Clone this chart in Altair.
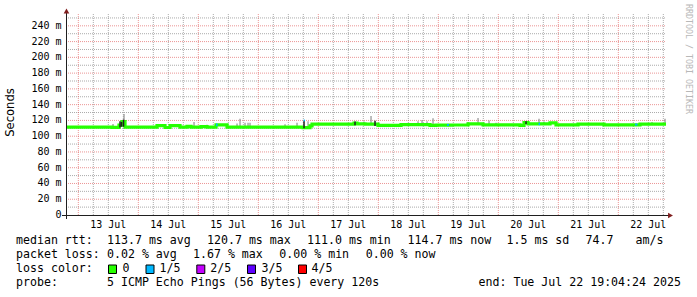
import altair as alt
import pandas as pd

# ---------------- data ----------------
# median rtt (ms), step series (time UTC, value)
med_time = [
    "2025-07-12T19:04:24Z", "2025-07-13T13:29:00Z", "2025-07-13T16:17:00Z", "2025-07-13T17:29:00Z",
    "2025-07-13T18:41:00Z", "2025-07-14T07:29:00Z", "2025-07-14T10:41:00Z", "2025-07-14T12:41:00Z",
    "2025-07-14T16:41:00Z", "2025-07-14T19:29:00Z", "2025-07-14T21:05:00Z", "2025-07-15T01:05:00Z",
    "2025-07-15T03:29:00Z", "2025-07-15T07:05:00Z", "2025-07-15T11:29:00Z", "2025-07-16T17:53:00Z",
    "2025-07-16T20:41:00Z", "2025-07-16T21:29:00Z", "2025-07-17T14:17:00Z", "2025-07-17T15:29:00Z",
    "2025-07-17T18:41:00Z", "2025-07-17T23:53:00Z", "2025-07-18T09:05:00Z", "2025-07-18T20:41:00Z",
    "2025-07-18T23:05:00Z", "2025-07-19T05:29:00Z", "2025-07-19T11:53:00Z", "2025-07-19T17:53:00Z",
    "2025-07-20T08:41:00Z", "2025-07-20T10:17:00Z", "2025-07-20T11:53:00Z", "2025-07-20T20:41:00Z",
    "2025-07-20T23:05:00Z", "2025-07-21T07:53:00Z", "2025-07-21T18:17:00Z", "2025-07-22T08:41:00Z",
    "2025-07-22T19:04:24Z",
]
med_ms = [
    111.5, 111.2, 114.0, 118.5,
    111.5, 113.4, 111.0, 113.4,
    111.5, 112.4, 111.5, 112.0,
    111.5, 114.3, 111.5, 110.8,
    113.0, 115.2, 116.5, 115.5,
    115.2, 113.6, 114.7, 113.6,
    113.9, 114.2, 115.5, 114.3,
    113.6, 117.2, 115.5, 117.0,
    114.3, 115.2, 114.3, 115.2,
    115.2,
]

# light smoke (ping spread) spikes
smoke_time = [
    "2025-07-13T13:53:00Z", "2025-07-13T18:17:00Z", "2025-07-14T22:17:00Z", "2025-07-15T03:29:00Z",
    "2025-07-15T15:29:00Z", "2025-07-15T16:41:00Z", "2025-07-15T18:41:00Z", "2025-07-15T19:53:00Z",
    "2025-07-15T20:41:00Z", "2025-07-16T10:41:00Z", "2025-07-16T15:29:00Z", "2025-07-16T19:53:00Z",
    "2025-07-17T18:17:00Z", "2025-07-17T21:05:00Z", "2025-07-18T15:53:00Z", "2025-07-18T17:29:00Z",
    "2025-07-18T19:29:00Z", "2025-07-18T21:53:00Z", "2025-07-19T11:53:00Z", "2025-07-19T15:53:00Z",
    "2025-07-19T20:17:00Z", "2025-07-19T23:05:00Z", "2025-07-20T16:17:00Z", "2025-07-20T18:17:00Z",
    "2025-07-22T13:29:00Z", "2025-07-22T18:41:00Z",
]
smoke_lo = [112, 118, 112, 112, 112, 112, 112, 112, 112, 112, 112, 113,
            115, 115, 114, 114, 114, 114, 115, 115, 114, 114, 115, 115, 115, 115]
smoke_hi = [115.5, 128, 118, 114.5, 116, 122, 117, 117, 117, 115, 117, 119,
            118.5, 125.7, 119, 120.6, 119, 122.8, 118, 123.2, 120, 117, 122, 118.5, 118, 122]

# dense smoke (dark) spikes
dark_time = ["2025-07-13T16:41:00Z", "2025-07-13T17:17:00Z", "2025-07-13T18:05:00Z",
             "2025-07-16T18:17:00Z", "2025-07-17T14:41:00Z", "2025-07-17T22:41:00Z",
             "2025-07-20T11:05:00Z"]
dark_lo = [111, 112, 112, 110, 114, 113, 115]
dark_hi = [119, 118, 121, 119, 118.5, 119.5, 119]

# median segments with 1/5 packet loss
loss_t1 = ["2025-07-15T07:05:00Z", "2025-07-16T18:05:00Z", "2025-07-19T03:29:00Z",
           "2025-07-20T16:05:00Z", "2025-07-22T06:41:00Z"]
loss_t2 = ["2025-07-15T07:41:00Z", "2025-07-16T18:41:00Z", "2025-07-19T04:17:00Z",
           "2025-07-20T16:41:00Z", "2025-07-22T07:41:00Z"]
loss_lo = [112.5, 118.5, 113, 114, 113.5]
loss_hi = [116, 121, 115.5, 117, 116]

y_ticks = [0, 20, 40, 60, 80, 100, 120, 140, 160, 180, 200, 220, 240]
y_tick_labels = ["0\u00a0\u00a0", "20 m", "40 m", "60 m", "80 m", "100 m", "120 m", "140 m",
                 "160 m", "180 m", "200 m", "220 m", "240 m"]
x_label_time = ["2025-07-%02dT12:00:00Z" % d for d in [13, 14, 15, 16, 17, 18, 19, 20, 21, 22]]
x_labels = ["13 Jul", "14 Jul", "15 Jul", "16 Jul", "17 Jul", "18 Jul", "19 Jul", "20 Jul",
            "21 Jul", "22 Jul"]

legend_labels = ["0", "1/5", "2/5", "3/5", "4/5"]
legend_colors = ["#26ff00", "#00b8ff", "#c400ff", "#5e00ff", "#ff0000"]

line1 = ["median rtt:", "113.7 ms avg", "120.7 ms max", "111.0 ms min", "114.7 ms now",
         "1.5 ms sd", "74.7", "am/s"]
line2 = ["packet loss:", "0.02 % avg", "1.67 % max", "0.00 % min", "0.00 % now"]
line4 = ["probe:", "5 ICMP Echo Pings (56 Bytes) every 120s", "end: Tue Jul 22 19:04:24 2025"]

# ---------------- layout ----------------
OX, OY = 66, 14
W, H = 600, 201
MONO = "DejaVu Sans Mono"
T0, T1 = "2025-07-12T19:04:24Z", "2025-07-22T19:04:24Z"

xscale = alt.Scale(type="utc", nice=False, domain=[
    alt.DateTime(year=2025, month=7, date=12, hours=19, minutes=4, seconds=24, utc=True),
    alt.DateTime(year=2025, month=7, date=22, hours=19, minutes=4, seconds=24, utc=True)])
yscale = alt.Scale(domain=[0, 255], nice=False, zero=True)


def X(f):
    return alt.X(f, type="temporal", scale=xscale, axis=None)


def Y(f):
    return alt.Y(f, type="quantitative", scale=yscale, axis=None)


df_med = pd.DataFrame({"t": med_time, "v": med_ms})
df_smoke = pd.DataFrame({"t": smoke_time, "lo": smoke_lo, "hi": smoke_hi})
df_dark = pd.DataFrame({"t": dark_time, "lo": dark_lo, "hi": dark_hi})
df_loss = pd.DataFrame({"t1": loss_t1, "t2": loss_t2, "lo": loss_lo, "hi": loss_hi})
df_xlab = pd.DataFrame({"t": x_label_time, "lab": x_labels})
df_ylab = pd.DataFrame({"v": y_ticks, "lab": y_tick_labels})

vg = pd.date_range("2025-07-13 00:00", "2025-07-22 18:00", freq="6h")
df_vmaj = pd.DataFrame({"t": [d.strftime("%Y-%m-%dT%H:%M:%SZ") for d in vg if d.hour == 0]})
df_vmin = pd.DataFrame({"t": [d.strftime("%Y-%m-%dT%H:%M:%SZ") for d in vg if d.hour != 0]})


def hgrid(vals):
    rows = []
    for v in vals:
        rows.append({"g": v, "v": v, "t": T0})
        rows.append({"g": v, "v": v, "t": T1})
    return pd.DataFrame(rows)


df_hmaj = hgrid(range(20, 251, 20))
df_hmin = hgrid(range(10, 251, 20))

one = pd.DataFrame({"a": [0]})

MAJ = "rgba(222,79,79,0.6)"
MIN = "rgba(143,143,143,0.75)"

layers = []
layers.append(alt.Chart(df_vmin).mark_rule(stroke=MIN, strokeDash=[1, 1], strokeWidth=1).encode(
    x=X("t"), y=alt.value(0), y2=alt.value(H)))
layers.append(alt.Chart(df_hmin).mark_line(stroke=MIN, strokeDash=[1, 1], strokeWidth=1).encode(
    x=X("t"), y=Y("v"), detail="g:N"))
layers.append(alt.Chart(df_vmaj).mark_rule(stroke=MAJ, strokeDash=[1, 1], strokeWidth=1).encode(
    x=X("t"), y=alt.value(0), y2=alt.value(H)))
layers.append(alt.Chart(df_hmaj).mark_line(stroke=MAJ, strokeDash=[1, 1], strokeWidth=1).encode(
    x=X("t"), y=Y("v"), detail="g:N"))

# smoke
layers.append(alt.Chart(df_smoke).mark_rule(color="#909090", strokeWidth=1.2).encode(
    x=X("t"), y=Y("lo"), y2="hi:Q"))

# median line
layers.append(alt.Chart(df_med).mark_line(color="#26ff00", strokeWidth=3.2, interpolate="step-after",
                                          strokeJoin="miter", strokeCap="butt").encode(
    x=X("t"), y=Y("v")))

layers.append(alt.Chart(df_loss).mark_rect(color="#00b8ff").encode(
    x=X("t1"), x2="t2:T", y=Y("lo"), y2="hi:Q"))

layers.append(alt.Chart(df_dark).mark_rule(color="#1e1e1e", strokeWidth=1.5).encode(
    x=X("t"), y=Y("lo"), y2="hi:Q"))

# tick labels
layers.append(alt.Chart(df_xlab).mark_text(font=MONO, fontSize=10, color="#000", align="center",
                                           baseline="middle").encode(
    x=X("t"), y=alt.value(224.5 - OY), text="lab:N"))
layers.append(alt.Chart(df_ylab).mark_text(font=MONO, fontSize=10, color="#000", align="right",
                                           baseline="middle").encode(
    y=Y("v"), x=alt.value(61.5 - OX), text="lab:N"))

# axis lines and arrows
AX = "#1f1f1f"
layers.append(alt.Chart(one).mark_rule(color=AX, strokeWidth=1).encode(
    x=alt.value(62 - OX), x2=alt.value(669 - OX), y=alt.value(215.5 - OY)))
layers.append(alt.Chart(one).mark_rule(color=AX, strokeWidth=1).encode(
    x=alt.value(66.5 - OX), y=alt.value(12 - OY), y2=alt.value(219 - OY)))
layers.append(alt.Chart(one).mark_point(shape="triangle-right", filled=True, fill="#801f1f", opacity=1,
                                        size=32, strokeWidth=0).encode(
    x=alt.value(670.5 - OX), y=alt.value(215.5 - OY)))
layers.append(alt.Chart(one).mark_point(shape="triangle-up", filled=True, fill="#801f1f", opacity=1,
                                        size=32, strokeWidth=0).encode(
    x=alt.value(66.5 - OX), y=alt.value(11 - OY)))


def txt(s, px, py, size=11.6, font=MONO, color="#000", angle=0, align="left"):
    return alt.Chart(one).mark_text(text=s, font=font, fontSize=size, color=color, angle=angle,
                                    align=align, baseline="middle").encode(
        x=alt.value(px - OX), y=alt.value(py - OY))


layers.append(txt("Seconds", 11, 112.5, size=11.6, font="DejaVu Sans", angle=270, align="center"))
layers.append(txt("RRDTOOL / TOBI OETIKER", 687.5, 59, size=8.3, color="#b8b8b8", angle=90, align="center"))

x1 = [16, 107, 207, 307, 407.5, 506.5, 585.5, 635.5]
for s, px in zip(line1, x1):
    layers.append(txt(s, px, 241))
x2 = [16, 107, 193, 279.3, 365.7]
for s, px in zip(line2, x2):
    layers.append(txt(s, px, 255))
layers.append(txt("loss color:", 16, 269))
sq_x = [108.5, 146, 196.8, 247.5, 298.5]
lab_x = [122.5, 159.5, 210.3, 261.5, 311.5]
for lab, col, sx, lx in zip(legend_labels, legend_colors, sq_x, lab_x):
    layers.append(alt.Chart(one).mark_rect(fill=col, stroke="#000", strokeWidth=1).encode(
        x=alt.value(sx - OX), x2=alt.value(sx + 8 - OX), y=alt.value(265 - OY), y2=alt.value(273.5 - OY)))
    layers.append(txt(lab, lx, 269))
x4 = [16, 107, 478.5]
for s, px in zip(line4, x4):
    layers.append(txt(s, px, 283))

chart = alt.layer(*layers).properties(
    width=W, height=H,
    autosize=alt.AutoSizeParams(type="none"),
    padding={"left": OX, "top": OY, "right": 697 - OX - W, "bottom": 297 - OY - H},
    background="white",
).configure_view(stroke=None)

chart.save("out.html", embed_options={"renderer": "svg", "actions": False})
